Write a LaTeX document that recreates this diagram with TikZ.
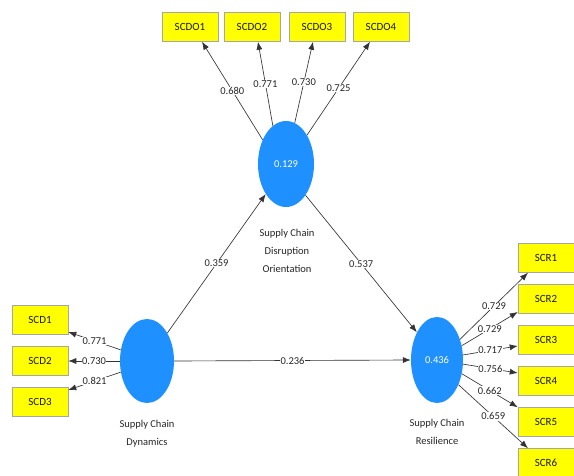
\documentclass[tikz,border=0pt]{standalone}
\usepackage{fontspec}
\setmainfont{Carlito}
\usetikzlibrary{arrows.meta,calc,shapes.geometric}
\definecolor{lvblue}{RGB}{30,144,255}
\definecolor{indyellow}{RGB}{255,255,0}
\begin{document}
\begin{tikzpicture}[x=1pt,y=-1pt,font=\fontsize{10.5}{12}\selectfont,
  ind/.style={rectangle, fill=indyellow, draw=black!35, line width=0.5pt, minimum width=56pt, minimum height=29pt, inner sep=0pt, text=black!90, font=\fontsize{11}{12}\selectfont},
  lv/.style={ellipse, fill=lvblue, draw=none, text=white, inner sep=0pt, font=\fontsize{10.5}{12}\selectfont},
  ldg/.style={draw=black!80, line width=0.65pt, -{Latex[length=8pt,width=6pt]}},
  val/.style={fill=white, inner sep=0.5pt, text=black!85, midway},
  lvcap/.style={align=center, font=\fontsize{10.5}{18}\selectfont, text=black!85, inner sep=0pt}]
\useasboundingbox (0,0) rectangle (574,476);
\fill[white] (0,0) rectangle (574,476);
% latent variables
\node[lv, minimum width=56pt, minimum height=86pt] (scdo) at (286,164) {0.129};
\node[lv, minimum width=54pt, minimum height=84pt] (scd) at (147,361) {};
\node[lv, minimum width=52pt, minimum height=86pt] (scr) at (437,360) {0.436};
\node[lvcap] (scdocap) at (287,251) {Supply Chain\\Disruption\\Orientation};
\node[lvcap] (scdcap) at (147,434) {Supply Chain\\Dynamics};
\node[lvcap] (scrcap) at (437,432) {Supply Chain\\Resilience};
% indicators
\node[ind] (scdo1) at (190,27) {SCDO1};
\node[ind] (scdo2) at (252,27) {SCDO2};
\node[ind] (scdo3) at (317,27) {SCDO3};
\node[ind] (scdo4) at (381,27) {SCDO4};
\node[ind] (scd1) at (40,320) {SCD1};
\node[ind] (scd2) at (40,361) {SCD2};
\node[ind] (scd3) at (40,402) {SCD3};
\node[ind] (scr1) at (546,258) {SCR1};
\node[ind] (scr2) at (546,299) {SCR2};
\node[ind] (scr3) at (546,340) {SCR3};
\node[ind] (scr4) at (546,381) {SCR4};
\node[ind] (scr5) at (546,422) {SCR5};
\node[ind] (scr6) at (546,463) {SCR6};
% outer loadings SCDO
\draw[ldg] (scdo.134) -- node[val]{0.680} ($(scdo1.south)+(12,0)$);
\draw[ldg] (scdo.109) -- node[val]{0.771} ($(scdo2.south)+(6,0)$);
\draw[ldg] (scdo.78) -- node[val]{0.730} ($(scdo3.south)+(-4,0)$);
\draw[ldg] (scdo.54) -- node[val]{0.725} ($(scdo4.south)+(-11,0)$);
% outer loadings SCD
\draw[ldg] (scd.157) -- node[val]{0.771} ($(scd1.east)+(0,12)$);
\draw[ldg] (scd.180) -- node[val]{0.730} (scd2.east);
\draw[ldg] (scd.203) -- node[val]{0.821} ($(scd3.east)+(0,-12)$);
% outer loadings SCR
\draw[ldg] (scr.42) -- node[val]{0.729} ($(scr1.south)+(-18,0)$);
\draw[ldg] (scr.30) -- node[val]{0.729} ($(scr2.west)+(0,13)$);
\draw[ldg] (scr.11) -- node[val]{0.717} ($(scr3.west)+(0,6)$);
\draw[ldg] (scr.-9) -- node[val]{0.756} ($(scr4.west)+(0,-8)$);
\draw[ldg] (scr.-29) -- node[val]{0.662} (scr5.north west);
\draw[ldg] (scr.-49) -- node[val]{0.659} ($(scr6.north)+(-18,0)$);
% structural paths
\draw[ldg] (scd.54) -- node[val]{0.359} (scdo.236);
\draw[ldg] (scdo.302) -- node[val]{0.537} (scr.126);
\draw[ldg] (scd.east) -- node[val]{0.236} (scr.west);
\end{tikzpicture}
\end{document}
